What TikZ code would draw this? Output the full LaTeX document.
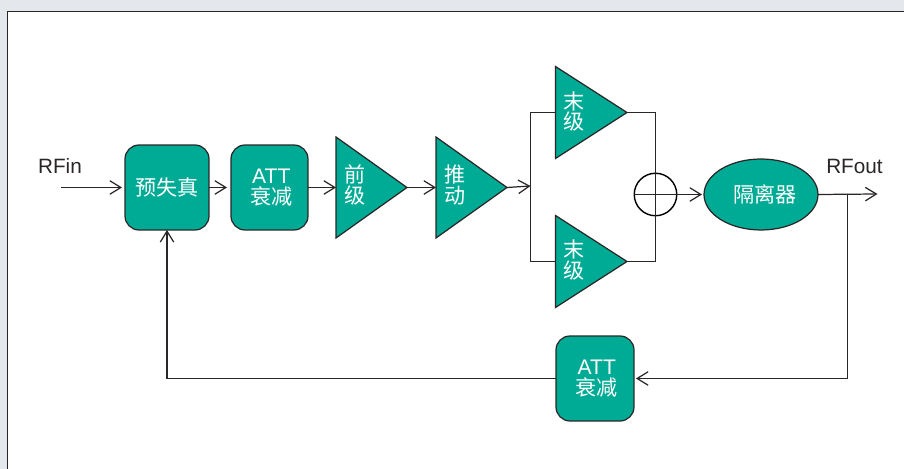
\documentclass[tikz,border=0pt]{standalone}
\usepackage{fontspec}
\setmainfont{Liberation Sans}
\newfontfamily\cjk{Noto Sans CJK SC}
\usetikzlibrary{positioning}
\usetikzlibrary{shapes.geometric}
\usetikzlibrary{arrows.meta}
\definecolor{tealfill}{HTML}{00AB96}
\definecolor{pagegrey}{HTML}{E4E7EC}
\definecolor{wirecol}{HTML}{2B2626}
\tikzset{
  block/.style={draw=wirecol, fill=tealfill, rounded corners=2.8mm, line width=0.7pt, inner sep=0pt, outer sep=0pt, align=center, text=white, font=\fontsize{12}{11.8}\selectfont\cjk},
  amp/.style={draw=wirecol, fill=tealfill, isosceles triangle, isosceles triangle stretches, minimum width=2.02cm, minimum height=1.42cm, inner sep=0pt, outer sep=0pt, line width=0.7pt, anchor=apex},
  finalamp/.style={amp, minimum width=1.84cm, minimum height=1.43cm},
  amptext/.style={text=white, align=center, inner sep=0pt, font=\fontsize{12}{11.8}\selectfont\cjk},
  wire/.style={draw=wirecol, line width=0.7pt},
  sig/.style={wire, -{Straight Barb[length=2.2mm,width=2.7mm]}},
  rf/.style={font=\fontsize{11.8}{13}\selectfont, text=wirecol}
}
\newcommand{\attlabel}{\hspace*{2pt}\fontspec{Liberation Sans}ATT\\[0.5pt]\hspace*{2pt}\cjk 衰减}
\begin{document}
\begin{tikzpicture}[x=0.02cm, y=-0.02cm]
  \useasboundingbox (0,0) rectangle (904,469);
  \fill[pagegrey] (0,0) rectangle (904,469);
  \fill[white] (7.5,11.5) rectangle (904,469);
  \coordinate (frametop) at (904,11.5);
  \coordinate (framecorner) at (7.5,11.5);
  \coordinate (framebottom) at (7.5,469);
  \draw[wirecol, line width=1.1pt] (frametop) -- (framecorner) -- (framebottom);

  % Blocks
  \node[block, minimum width=1.68cm, minimum height=1.7cm] (predist) at (167,187.5) {预失真};
  \node[block, minimum width=1.54cm, minimum height=1.7cm] (att1) at (269.5,187.5) {\attlabel};
  \node[amp] (pre) at (407,187.5) {};
  \node[amptext] (pretext) at (355.5,185) {前\\级};
  \node[amp] (drive) at (507,187.5) {};
  \node[amptext] (drivetext) at (455,185) {推\\动};
  \node[finalamp] (final1) at (627,112.5) {};
  \node[amptext] (final1text) at (574.5,111.5) {末\\级};
  \node[finalamp] (final2) at (627,261.5) {};
  \node[amptext] (final2text) at (574.5,260) {末\\级};
  \node[draw=black, circle, minimum size=0.85cm, inner sep=0pt, outer sep=0pt, line width=0.8pt] (comb) at (655.5,194.5) {};
  \node[draw=wirecol, fill=tealfill, ellipse, minimum width=2.28cm, minimum height=1.42cm, inner sep=0pt, outer sep=0pt, line width=0.7pt, text=white, font=\fontsize{12}{11.8}\selectfont\cjk] (iso) at (761,194.5) {\hspace*{5pt}隔离器};
  \node[block, minimum width=1.56cm, minimum height=1.7cm] (att2) at (595,378.5) {\attlabel};
  \node[rf] (rfin) at (60,166) {RFin};
  \node[rf] (rfout) at (854.5,166) {RFout};

  % Free ends
  \coordinate (instart) at (61,187.5);
  \coordinate (outend) at (877.5,194);
  \coordinate (tap) at (847.5,194);
  \coordinate (split) at (530.5,186);

  % Forward path
  \draw[sig, shorten >=0.6mm] (instart) -- (predist);
  \draw[sig, shorten >=0.8mm] (predist) -- (att1);
  \draw[sig] (att1) -- (pre.west |- att1);
  \draw[sig] (pre.apex) -- (drive.west |- pre.apex);
  \draw[sig] (drive.apex) -- (split);
  \draw[wire] (final1.west) -| (split) |- (final2.west);
  \draw[wire] (final1.apex) -| (comb.north);
  \draw[wire] (final2.apex) -| (comb.south);
  \draw[wire] (comb.north) -- (comb.south);
  \draw[wire] (comb.west) -- (comb.east);
  \draw[sig, shorten >=0.4mm] (comb.east) -- (iso.west);
  \draw[sig] (iso.east) -- (outend);

  % Feedback path
  \draw[sig, shorten >=0.4mm] (tap) |- (att2.east);
  \draw[sig] (att2.west) -| (predist.south);
\end{tikzpicture}
\end{document}
